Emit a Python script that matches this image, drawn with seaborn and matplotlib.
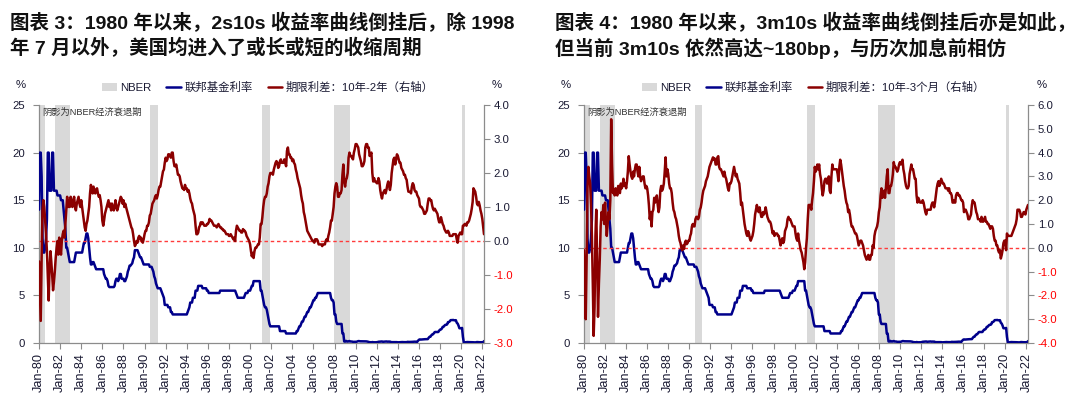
import matplotlib
matplotlib.use("Agg")
import matplotlib.pyplot as plt
import matplotlib.dates as mdates
from matplotlib.patches import Patch
from matplotlib.lines import Line2D
from matplotlib.ticker import FormatStrFormatter
import pandas as pd
import seaborn as sns

# ---------------- data (monthly, Jan-1980 .. Mar-2022) ----------------
start_month = "1980-01-01"

fed_funds = [
    14.0, 20.0, 20.0, 17.5, 11.0, 9.5, 9.5, 10.0, 11.0, 13.0, 20.0, 20.0,   # 1980
    16.0, 16.0, 16.0, 20.0, 20.0, 16.0, 16.0, 16.0, 16.0, 15.5, 15.5, 15.5,  # 1981
    15.5, 15.0, 15.0, 15.0, 14.0, 13.0, 12.0, 10.0, 10.0, 9.5, 9.0, 8.5,    # 1982
    8.5, 8.5, 8.5, 8.5, 8.5, 9.0, 9.5, 9.5, 9.5, 9.5, 9.5, 9.5,             # 1983
    9.5, 9.5, 10.0, 10.5, 10.5, 11.0, 11.5, 11.5, 11.0, 10.0, 9.0, 8.25,    # 1984
    8.25, 8.5, 8.5, 8.25, 8.0, 7.75, 7.75, 7.75, 7.75, 7.75, 7.75, 7.75,    # 1985
    7.75, 7.75, 7.25, 7.0, 6.75, 6.75, 6.5, 6.0, 5.875, 5.875, 5.875, 5.875,  # 1986
    5.875, 5.875, 6.0, 6.5, 6.75, 6.75, 6.5, 6.75, 7.25, 7.25, 6.75, 6.75,  # 1987
    6.75, 6.5, 6.5, 6.75, 7.0, 7.5, 7.75, 8.125, 8.125, 8.25, 8.375, 8.75,  # 1988
    9.0, 9.75, 9.75, 9.75, 9.75, 9.5, 9.25, 9.0, 9.0, 8.75, 8.5, 8.25,      # 1989
    8.25, 8.25, 8.25, 8.25, 8.25, 8.25, 8.0, 8.0, 8.0, 7.75, 7.5, 7.0,      # 1990
    6.75, 6.25, 6.0, 5.75, 5.75, 5.75, 5.75, 5.5, 5.25, 5.0, 4.75, 4.0,     # 1991
    4.0, 4.0, 4.0, 3.75, 3.75, 3.75, 3.25, 3.25, 3.0, 3.0, 3.0, 3.0,        # 1992
    3.0, 3.0, 3.0, 3.0, 3.0, 3.0, 3.0, 3.0, 3.0, 3.0, 3.0, 3.0,             # 1993
    3.0, 3.25, 3.5, 3.75, 4.25, 4.25, 4.25, 4.75, 4.75, 4.75, 5.5, 5.5,     # 1994
    5.5, 6.0, 6.0, 6.0, 6.0, 6.0, 5.75, 5.75, 5.75, 5.75, 5.75, 5.5,        # 1995
    5.5, 5.25, 5.25, 5.25, 5.25, 5.25, 5.25, 5.25, 5.25, 5.25, 5.25, 5.25,  # 1996
    5.25, 5.25, 5.5, 5.5, 5.5, 5.5, 5.5, 5.5, 5.5, 5.5, 5.5, 5.5,           # 1997
    5.5, 5.5, 5.5, 5.5, 5.5, 5.5, 5.5, 5.5, 5.25, 5.0, 4.75, 4.75,          # 1998
    4.75, 4.75, 4.75, 4.75, 4.75, 4.75, 5.0, 5.25, 5.25, 5.25, 5.5, 5.5,    # 1999
    5.5, 5.75, 6.0, 6.0, 6.5, 6.5, 6.5, 6.5, 6.5, 6.5, 6.5, 6.5,            # 2000
    5.5, 5.5, 5.0, 4.5, 4.0, 3.75, 3.75, 3.5, 3.0, 2.5, 2.0, 1.75,          # 2001
    1.75, 1.75, 1.75, 1.75, 1.75, 1.75, 1.75, 1.75, 1.75, 1.75, 1.25, 1.25,  # 2002
    1.25, 1.25, 1.25, 1.25, 1.25, 1.0, 1.0, 1.0, 1.0, 1.0, 1.0, 1.0,        # 2003
    1.0, 1.0, 1.0, 1.0, 1.0, 1.25, 1.25, 1.5, 1.75, 1.75, 2.0, 2.25,        # 2004
    2.25, 2.5, 2.75, 2.75, 3.0, 3.25, 3.25, 3.5, 3.75, 3.75, 4.0, 4.25,     # 2005
    4.5, 4.5, 4.75, 4.75, 5.0, 5.25, 5.25, 5.25, 5.25, 5.25, 5.25, 5.25,    # 2006
    5.25, 5.25, 5.25, 5.25, 5.25, 5.25, 5.25, 5.25, 4.75, 4.5, 4.5, 4.25,   # 2007
    3.0, 3.0, 2.25, 2.0, 2.0, 2.0, 2.0, 2.0, 2.0, 1.0, 1.0, 0.16,           # 2008
    0.15, 0.22, 0.18, 0.15, 0.18, 0.21, 0.16, 0.16, 0.15, 0.12, 0.12, 0.12,  # 2009
    0.11, 0.13, 0.16, 0.2, 0.2, 0.18, 0.18, 0.19, 0.19, 0.19, 0.19, 0.18,   # 2010
    0.17, 0.16, 0.14, 0.1, 0.09, 0.09, 0.07, 0.1, 0.08, 0.07, 0.08, 0.07,   # 2011
    0.08, 0.1, 0.13, 0.14, 0.16, 0.16, 0.16, 0.13, 0.14, 0.16, 0.16, 0.16,  # 2012
    0.14, 0.15, 0.14, 0.15, 0.11, 0.09, 0.09, 0.08, 0.08, 0.09, 0.08, 0.09,  # 2013
    0.07, 0.07, 0.08, 0.09, 0.09, 0.1, 0.09, 0.09, 0.09, 0.09, 0.09, 0.12,  # 2014
    0.11, 0.11, 0.11, 0.12, 0.12, 0.13, 0.13, 0.14, 0.14, 0.12, 0.12, 0.24,  # 2015
    0.34, 0.38, 0.36, 0.37, 0.37, 0.38, 0.39, 0.4, 0.4, 0.4, 0.41, 0.54,    # 2016
    0.65, 0.66, 0.79, 0.9, 0.91, 1.04, 1.15, 1.16, 1.15, 1.15, 1.16, 1.3,   # 2017
    1.41, 1.42, 1.51, 1.69, 1.7, 1.82, 1.91, 1.91, 1.95, 2.19, 2.2, 2.27,   # 2018
    2.4, 2.4, 2.41, 2.42, 2.39, 2.38, 2.4, 2.13, 2.04, 1.83, 1.55, 1.55,    # 2019
    1.55, 1.58, 0.65, 0.05, 0.05, 0.08, 0.09, 0.1, 0.09, 0.09, 0.09, 0.09,  # 2020
    0.09, 0.08, 0.07, 0.07, 0.06, 0.08, 0.1, 0.09, 0.08, 0.08, 0.08, 0.08,  # 2021
    0.08, 0.08, 0.2,                                                         # 2022
]

spread_10y2y = [
    -0.6, -1.5, -2.35, -0.5, 0.9, 1.2, 1.0, 0.6, 0.2, -0.3, -1.0, -1.75,    # 1980
    -0.8, -0.3, -0.6, -1.0, -1.45, -1.2, -0.9, -0.5, -0.2, 0.0, -0.4, 0.1,  # 1981
    -0.2, -0.4, 0.0, 0.2, 0.3, 0.1, 0.5, 0.9, 1.3, 1.0, 1.2, 1.0,           # 1982
    1.3, 1.1, 1.0, 1.2, 1.3, 1.0, 0.9, 1.1, 1.2, 1.3, 1.1, 1.0,             # 1983
    1.2, 1.0, 0.8, 0.6, 0.4, 0.3, 0.5, 0.6, 0.8, 1.0, 1.4, 1.65,            # 1984
    1.5, 1.4, 1.6, 1.5, 1.4, 1.5, 1.55, 1.4, 1.3, 1.35, 1.2, 1.0,           # 1985
    0.6, 0.45, 0.6, 0.8, 0.9, 1.0, 1.1, 1.2, 1.0, 1.1, 0.9, 1.1,            # 1986
    1.0, 0.9, 1.0, 1.2, 1.0, 0.9, 1.0, 1.1, 1.2, 1.3, 1.25, 1.1,            # 1987
    1.2, 1.0, 1.1, 1.0, 0.9, 0.8, 0.7, 0.6, 0.5, 0.4, 0.35, 0.2,            # 1988
    0.0, -0.15, -0.1, 0.0, -0.05, 0.1, 0.15, 0.05, 0.1, 0.0, -0.05, 0.05,   # 1989
    0.2, 0.3, 0.3, 0.45, 0.45, 0.55, 0.75, 0.8, 0.95, 1.1, 1.15, 1.2,       # 1990
    1.3, 1.35, 1.25, 1.35, 1.5, 1.6, 1.6, 1.75, 1.9, 2.05, 2.1, 2.3,        # 1991
    2.45, 2.35, 2.4, 2.55, 2.55, 2.5, 2.45, 2.6, 2.6, 2.35, 2.2, 2.2,       # 1992
    2.25, 2.1, 1.95, 1.95, 1.9, 1.75, 1.65, 1.55, 1.55, 1.5, 1.65, 1.55,    # 1993
    1.55, 1.45, 1.5, 1.4, 1.25, 1.15, 1.1, 0.95, 0.85, 0.75, 0.45, 0.2,     # 1994
    0.2, 0.25, 0.4, 0.45, 0.55, 0.5, 0.55, 0.5, 0.45, 0.45, 0.45, 0.5,      # 1995
    0.5, 0.55, 0.65, 0.6, 0.6, 0.55, 0.5, 0.45, 0.45, 0.45, 0.4, 0.45,      # 1996
    0.5, 0.45, 0.4, 0.4, 0.35, 0.35, 0.3, 0.3, 0.25, 0.2, 0.2, 0.2,         # 1997
    0.15, 0.15, 0.2, 0.15, 0.1, 0.05, 0.1, 0.0, 0.3, 0.45, 0.4, 0.35,       # 1998
    0.3, 0.3, 0.25, 0.25, 0.35, 0.3, 0.3, 0.25, 0.15, 0.1, 0.05, 0.0,       # 1999
    -0.1, -0.3, -0.45, -0.35, -0.5, -0.3, -0.2, -0.2, -0.15, -0.1, -0.1, 0.1,  # 2000
    0.5, 0.5, 0.7, 1.0, 1.2, 1.3, 1.3, 1.4, 1.6, 1.7, 1.9, 2.0,             # 2001
    2.0, 2.0, 1.95, 2.1, 2.2, 2.3, 2.35, 2.3, 2.15, 2.2, 2.35, 2.4,         # 2002
    2.3, 2.3, 2.3, 2.4, 2.3, 2.2, 2.65, 2.75, 2.55, 2.55, 2.45, 2.45,       # 2003
    2.35, 2.4, 2.3, 2.25, 2.1, 2.0, 1.85, 1.75, 1.65, 1.55, 1.35, 1.2,      # 2004
    1.1, 0.85, 0.75, 0.6, 0.45, 0.3, 0.25, 0.2, 0.15, 0.1, 0.05, 0.0,       # 2005
    0.0, -0.05, 0.05, 0.05, 0.05, 0.0, -0.1, -0.1, -0.1, -0.1, -0.15, -0.1,  # 2006
    -0.1, -0.1, 0.0, 0.05, 0.0, 0.15, 0.25, 0.4, 0.6, 0.6, 0.8, 1.0,        # 2007
    1.4, 1.6, 1.7, 1.6, 1.3, 1.3, 1.4, 1.4, 1.5, 1.95, 2.25, 1.75,          # 2008
    1.6, 1.8, 1.85, 2.0, 2.45, 2.6, 2.5, 2.5, 2.45, 2.4, 2.6, 2.7,          # 2009
    2.85, 2.85, 2.8, 2.75, 2.55, 2.45, 2.35, 2.2, 2.2, 2.25, 2.35, 2.75,    # 2010
    2.85, 2.85, 2.75, 2.75, 2.5, 2.55, 2.6, 2.0, 1.75, 1.85, 1.75, 1.75,    # 2011
    1.7, 1.7, 1.85, 1.75, 1.5, 1.35, 1.25, 1.4, 1.45, 1.5, 1.4, 1.5,        # 2012
    1.65, 1.75, 1.65, 1.5, 1.65, 2.0, 2.2, 2.4, 2.45, 2.25, 2.4, 2.55,      # 2013
    2.5, 2.4, 2.3, 2.3, 2.15, 2.1, 2.05, 1.95, 1.95, 1.85, 1.8, 1.6,        # 2014
    1.45, 1.45, 1.45, 1.4, 1.6, 1.7, 1.65, 1.5, 1.45, 1.45, 1.35, 1.3,      # 2015
    1.25, 1.05, 1.0, 1.0, 0.95, 0.9, 0.8, 0.8, 0.85, 0.9, 1.1, 1.25,        # 2016
    1.25, 1.2, 1.2, 1.05, 0.95, 0.9, 0.95, 0.9, 0.85, 0.8, 0.65, 0.55,      # 2017
    0.55, 0.7, 0.6, 0.5, 0.45, 0.35, 0.3, 0.25, 0.25, 0.3, 0.25, 0.15,      # 2018
    0.15, 0.15, 0.15, 0.2, 0.2, 0.2, 0.2, 0.05, -0.05, 0.15, 0.2, 0.25,     # 2019
    0.2, 0.2, 0.45, 0.45, 0.5, 0.5, 0.45, 0.55, 0.55, 0.6, 0.7, 0.8,        # 2020
    0.95, 1.15, 1.55, 1.5, 1.45, 1.3, 1.1, 1.05, 1.15, 1.05, 0.9, 0.8,      # 2021
    0.65, 0.4, 0.2,                                                          # 2022
]

spread_10y3m = [
    -0.1, -1.5, -3.0, -0.5, 2.5, 3.4, 3.0, 2.7, 1.8, 0.5, -1.5, -3.7,       # 1980
    -2.5, 0.5, 1.6, -0.5, -2.9, -1.5, -0.5, 0.9, 1.5, 1.2, 1.8, 1.0,        # 1981
    1.9, 1.1, 0.5, 1.0, 1.5, 1.2, 2.0, 5.4, 3.5, 2.3, 2.4, 2.2,             # 1982
    2.5, 2.3, 2.2, 2.6, 2.4, 2.3, 2.7, 2.5, 2.6, 2.9, 2.6, 2.7,             # 1983
    2.5, 2.8, 3.2, 3.85, 3.5, 3.2, 3.0, 2.9, 3.2, 3.0, 3.3, 3.5,            # 1984
    3.5, 3.2, 3.0, 3.4, 3.0, 2.8, 2.9, 3.0, 3.0, 2.7, 2.5, 2.6,             # 1985
    2.5, 2.2, 1.8, 1.2, 1.5, 0.9, 1.5, 1.6, 2.1, 1.9, 2.0, 2.2,             # 1986
    1.8, 1.5, 1.7, 2.4, 2.6, 2.4, 2.5, 2.7, 3.2, 3.8, 3.0, 3.3,             # 1987
    3.1, 2.7, 2.5, 2.5, 2.3, 1.9, 1.6, 1.5, 1.3, 1.2, 1.0, 0.8,             # 1988
    0.5, 0.3, 0.2, 0.0, -0.1, 0.1, -0.05, 0.2, 0.3, 0.15, 0.2, 0.3,         # 1989
    0.3, 0.5, 0.6, 0.9, 1.0, 0.9, 0.9, 1.2, 1.3, 1.3, 1.2, 1.3,             # 1990
    1.6, 1.7, 1.9, 2.2, 2.4, 2.5, 2.6, 2.8, 2.9, 3.0, 3.2, 3.4,             # 1991
    3.5, 3.6, 3.7, 3.8, 3.7, 3.75, 3.5, 3.5, 3.8, 3.85, 3.4, 3.3,           # 1992
    3.3, 3.2, 3.1, 3.0, 3.2, 3.0, 2.9, 2.7, 2.5, 2.4, 2.7, 2.7,             # 1993
    2.8, 3.0, 3.2, 3.4, 3.2, 3.0, 3.1, 2.9, 2.8, 2.7, 2.3, 1.8,             # 1994
    1.9, 1.6, 1.3, 1.0, 0.8, 0.6, 0.5, 0.7, 0.6, 0.4, 0.3, 0.4,             # 1995
    0.5, 0.7, 1.0, 1.4, 1.6, 1.8, 1.6, 1.5, 1.7, 1.5, 1.3, 1.3,             # 1996
    1.5, 1.4, 1.5, 1.7, 1.5, 1.3, 1.2, 1.1, 1.1, 1.0, 0.8, 0.6,             # 1997
    0.7, 0.5, 0.6, 0.6, 0.6, 0.5, 0.5, 0.3, 0.1, 0.3, 0.4, 0.2,             # 1998
    0.3, 0.7, 0.8, 0.9, 1.2, 1.3, 1.2, 1.2, 1.1, 1.0, 0.9, 0.9,             # 1999
    0.9, 0.6, 0.4, 0.3, 0.6, 0.3, 0.1, -0.1, -0.2, -0.4, -0.6, -0.9,        # 2000
    -0.6, 0.0, 0.4, 1.2, 1.8, 1.8, 1.8, 1.6, 2.0, 2.3, 2.8, 3.4,            # 2001
    3.2, 3.3, 3.5, 3.3, 3.5, 3.1, 2.9, 2.5, 2.2, 2.4, 2.8, 2.9,             # 2002
    2.9, 2.7, 2.8, 3.0, 2.4, 2.3, 3.0, 3.5, 3.3, 3.3, 3.3, 3.3,             # 2003
    3.3, 3.1, 2.8, 3.4, 3.7, 3.5, 3.2, 2.9, 2.6, 2.4, 2.1, 1.9,             # 2004
    1.8, 1.5, 1.6, 1.4, 1.1, 0.9, 0.9, 0.8, 0.7, 0.6, 0.6, 0.5,             # 2005
    0.3, 0.1, 0.2, 0.3, 0.3, 0.2, 0.1, -0.1, -0.3, -0.4, -0.5, -0.4,        # 2006
    -0.3, -0.5, -0.5, -0.3, -0.3, 0.1, 0.0, 0.5, 0.7, 0.8, 0.9, 1.1,        # 2007
    1.5, 1.7, 2.2, 2.5, 2.1, 2.2, 2.4, 2.1, 2.5, 3.0, 3.3, 2.3,             # 2008
    2.3, 2.6, 2.6, 2.8, 3.1, 3.6, 3.4, 3.4, 3.3, 3.2, 3.3, 3.5,             # 2009
    3.6, 3.5, 3.6, 3.7, 3.3, 3.1, 2.8, 2.6, 2.5, 2.5, 2.6, 3.1,             # 2010
    3.3, 3.5, 3.3, 3.3, 3.1, 2.9, 2.9, 2.2, 1.9, 2.1, 2.0, 1.9,             # 2011
    1.9, 1.9, 2.0, 1.9, 1.7, 1.5, 1.4, 1.6, 1.6, 1.6, 1.6, 1.6,             # 2012
    1.8, 1.9, 1.9, 1.7, 1.9, 2.2, 2.5, 2.7, 2.8, 2.6, 2.7, 2.9,             # 2013
    2.8, 2.7, 2.7, 2.6, 2.5, 2.5, 2.5, 2.4, 2.5, 2.3, 2.3, 2.2,             # 2014
    1.9, 1.9, 2.0, 1.9, 2.2, 2.3, 2.3, 2.2, 2.2, 2.1, 2.0, 2.0,             # 2015
    1.9, 1.5, 1.6, 1.6, 1.5, 1.4, 1.2, 1.2, 1.3, 1.4, 1.8, 2.0,             # 2016
    1.9, 1.9, 1.7, 1.5, 1.4, 1.2, 1.2, 1.2, 1.1, 1.3, 1.1, 1.1,             # 2017
    1.2, 1.3, 1.1, 1.1, 1.0, 1.0, 0.9, 0.8, 0.9, 0.9, 0.8, 0.5,             # 2018
    0.3, 0.3, 0.1, 0.1, -0.1, -0.2, -0.1, -0.45, -0.3, -0.1, 0.2, 0.3,      # 2019
    0.3, -0.1, 0.6, 0.5, 0.5, 0.5, 0.5, 0.5, 0.6, 0.7, 0.8, 0.9,            # 2020
    1.0, 1.2, 1.6, 1.6, 1.6, 1.5, 1.3, 1.3, 1.4, 1.5, 1.5, 1.4,             # 2021
    1.6, 1.7, 1.8,                                                           # 2022
]

nber_start = ["1980-01-01", "1981-07-01", "1990-07-01", "2001-03-01", "2007-12-01", "2020-02-01"]
nber_end = ["1980-07-31", "1982-11-30", "1991-03-31", "2001-11-30", "2009-06-30", "2020-05-15"]

titles = [
    ["图表 3：1980 年以来，2s10s 收益率曲线倒挂后，除 1998",
     "年 7 月以外，美国均进入了或长或短的收缩周期"],
    ["图表 4：1980 年以来，3m10s 收益率曲线倒挂后亦是如此，",
     "但当前 3m10s 依然高达~180bp，与历次加息前相仿"],
]
legend_nber = "NBER"
legend_fed = "联邦基金利率"
legend_spread = ["期限利差：10年-2年（右轴）", "期限利差：10年-3个月（右轴）"]
shade_note = "阴影为NBER经济衰退期"
left_ticks = [0, 5, 10, 15, 20, 25]
right_ticks = [[-3, -2, -1, 0, 1, 2, 3, 4], [-4, -3, -2, -1, 0, 1, 2, 3, 4, 5, 6]]

# ---------------- style ----------------
sns.set_style("white")
plt.rcParams["font.family"] = ["Liberation Sans", "Noto Sans CJK SC"]
plt.rcParams["axes.unicode_minus"] = False

NAVY = "#00008B"
DRED = "#8B0000"
SHADE = "#D9D9D9"
GRID_GRAY = "#8C8C8C"
TXT = "#1a1a33"

dates = pd.date_range(start_month, periods=len(fed_funds), freq="MS")
fig = plt.figure(figsize=(10.8, 3.99), dpi=100)

panels = [
    dict(rect=[39 / 1080, 56 / 399, 445 / 1080, 238 / 399], spread=spread_10y2y,
         rticks=right_ticks[0], title=titles[0], tx=10, leg_x=102, pct_l=21, pct_r=497,
         label=legend_spread[0]),
    dict(rect=[584 / 1080, 56 / 399, 444 / 1080, 238 / 399], spread=spread_10y3m,
         rticks=right_ticks[1], title=titles[1], tx=555, leg_x=642, pct_l=566, pct_r=1042,
         label=legend_spread[1]),
]

for p in panels:
    ax = fig.add_axes(p["rect"])
    for s, e in zip(nber_start, nber_end):
        ax.axvspan(pd.Timestamp(s), pd.Timestamp(e), color=SHADE, lw=0, zorder=0)
    sns.lineplot(x=dates, y=fed_funds, ax=ax, color=NAVY, lw=1.8, zorder=3)
    ax.set_ylim(0, 25)
    ax.set_yticks(left_ticks)
    ax.set_xlim(dates[0], dates[-1])
    ax.set_xticks(pd.date_range("1980-01-01", "2022-01-01", freq="24MS"))
    ax.xaxis.set_major_formatter(mdates.DateFormatter("%b-%y"))
    ax.set_xlabel("")
    ax.set_ylabel("")
    for side in ["top", "right"]:
        ax.spines[side].set_visible(False)
    for side in ["left", "bottom"]:
        ax.spines[side].set_color(GRID_GRAY)
        ax.spines[side].set_linewidth(0.9)
    ax.tick_params(axis="y", left=True, direction="out", length=4, width=0.8,
                   color=GRID_GRAY, pad=6, labelsize=8.2, labelcolor=TXT)
    ax.tick_params(axis="x", bottom=True, direction="out", length=4, width=0.8,
                   color=GRID_GRAY, pad=3, labelsize=9.2, labelcolor=TXT, rotation=90)

    ax2 = ax.twinx()
    ax2.axhline(0, color="#FF3B3B", lw=1.0, ls=(0, (2.5, 2)), zorder=2)
    sns.lineplot(x=dates, y=p["spread"], ax=ax2, color=DRED, lw=1.8, zorder=4)
    ax2.set_ylim(p["rticks"][0], p["rticks"][-1])
    ax2.set_yticks(p["rticks"])
    ax2.yaxis.set_major_formatter(FormatStrFormatter("%.1f"))
    ax2.set_ylabel("")
    for side in ["top", "left", "bottom"]:
        ax2.spines[side].set_visible(False)
    ax2.spines["right"].set_color(GRID_GRAY)
    ax2.spines["right"].set_linewidth(0.9)
    ax2.tick_params(axis="y", right=True, direction="out", length=4, width=0.8,
                    color=GRID_GRAY, pad=3, labelsize=8.2, labelcolor=TXT)
    for v, lab in zip(p["rticks"], ax2.get_yticklabels()):
        lab.set_color("#FF0000" if v < 0 else TXT)

    ax.text(0.008, 0.99, shade_note, transform=ax.transAxes, ha="left", va="top",
            fontsize=6.7, color="#333333", zorder=5)

    # titles
    fig.text(p["tx"] / 1080, 1 - 23 / 399, p["title"][0], ha="left", va="center",
             fontsize=14, fontweight="bold", color="#111111")
    fig.text(p["tx"] / 1080, 1 - 48.5 / 399, p["title"][1], ha="left", va="center",
             fontsize=14, fontweight="bold", color="#111111")

    # % unit labels
    fig.text(p["pct_l"] / 1080, 1 - 85 / 399, "%", ha="center", va="center",
             fontsize=8.2, color=TXT)
    fig.text(p["pct_r"] / 1080, 1 - 85 / 399, "%", ha="center", va="center",
             fontsize=8.2, color=TXT)

    handles = [Patch(facecolor=SHADE, edgecolor="none"),
               Line2D([], [], color=NAVY, lw=1.8),
               Line2D([], [], color=DRED, lw=1.8)]
    fig.legend(handles, [legend_nber, legend_fed, p["label"]], loc="center left",
               bbox_to_anchor=(p["leg_x"] / 1080, 1 - 87 / 399), ncol=3, frameon=False,
               fontsize=8.2, handlelength=1.3, handletextpad=0.3, columnspacing=1.3,
               borderpad=0, borderaxespad=0, labelcolor=TXT)

fig.savefig("out.png", dpi=100)
